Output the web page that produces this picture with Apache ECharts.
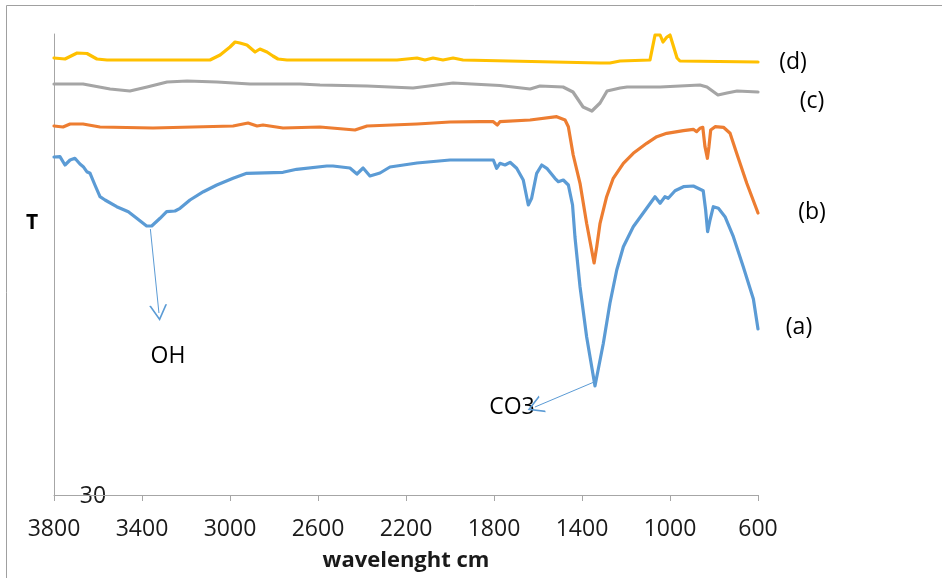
<!DOCTYPE html>
<html>
<head>
<meta charset="utf-8">
<script src="https://cdn.jsdelivr.net/npm/echarts@6/dist/echarts.min.js"></script>
<style>
html,body{margin:0;padding:0;background:#fff;}
#chart{width:942px;height:578px;}
</style>
</head>
<body>
<div id="chart"></div>
<script>
// x tick labels (wavenumber)
var xTicks = [3800, 3400, 3000, 2600, 2200, 1800, 1400, 1000, 600];

// (a) blue
var aWn = [3800,3795,3773,3750,3727,3705,3682,3667,3651,3636,3614,3591,3568,3515,3462,3424,3379,3356,3318,3288,3250,3227,3182,3121,3060,2986,2924,2759,2697,2560,2532,2455,2423,2395,2364,2318,2273,2150,2000,1864,1803,1788,1773,1750,1727,1697,1667,1644,1629,1606,1583,1560,1523,1508,1485,1462,1443,1432,1409,1379,1341,1303,1273,1242,1212,1167,1106,1068,1045,1023,1008,977,939,894,849,838,829,818,803,780,750,712,667,621,600];
var aT  = [63.8,63.9,63.83,63.0,63.5,63.67,63.1,62.83,62.33,62.17,61.0,59.83,59.5,58.83,58.33,57.67,56.9,56.9,57.67,58.33,58.4,58.67,59.5,60.33,61.0,61.67,62.17,62.27,62.57,62.9,62.9,62.7,62.1,62.7,61.9,62.2,62.8,63.2,63.5,63.5,63.5,62.67,63.17,63.0,63.27,62.67,61.5,59.0,59.67,62.17,63.0,62.67,61.67,61.33,61.5,61.0,59.0,55.8,50.83,45.83,40.9,45.17,49.17,52.5,54.83,56.83,58.67,59.83,59.17,59.83,59.67,60.43,60.83,60.9,60.43,58.5,56.33,57.5,58.83,58.67,57.83,55.83,52.83,49.6,46.6];

// (b) orange
var bWn = [3800,3759,3727,3668,3591,3350,2986,2918,2877,2850,2759,2591,2432,2377,2150,2000,1864,1803,1785,1773,1636,1515,1477,1462,1440,1409,1379,1345,1333,1318,1288,1258,1212,1167,1106,1060,1015,939,894,879,864,851,841,830,823,815,795,757,727,697,651,605,600];
var bT  = [66.9,66.8,67.1,67.1,66.8,66.7,66.9,67.2,66.9,67.0,66.7,66.8,66.5,66.9,67.1,67.3,67.33,67.33,67.0,67.33,67.5,67.83,67.5,66.83,64.0,61.17,57.17,53.2,54.83,57.17,59.83,61.67,63.17,64.17,65.17,65.83,66.17,66.43,66.57,66.33,66.67,66.77,64.83,63.67,64.83,66.5,66.83,66.77,66.17,64.17,61.17,58.5,58.2];

// (c) grey
var cWn = [3800,3668,3545,3455,3377,3286,3195,3059,2909,2682,2591,2377,2168,1986,1773,1636,1591,1486,1441,1395,1355,1318,1286,1227,1195,1045,864,832,782,741,695,600];
var cT  = [71.1,71.1,70.6,70.4,70.8,71.3,71.4,71.3,71.1,71.1,71.0,70.9,70.7,71.2,70.95,70.6,70.9,70.8,70.3,68.8,68.4,69.2,70.4,70.7,70.8,70.8,71.0,70.8,70.0,70.2,70.4,70.3];

// (d) yellow
var dWn = [3800,3750,3695,3650,3605,3559,3091,3045,3000,2977,2955,2923,2886,2864,2832,2805,2782,2741,2591,2241,2150,2114,2077,2032,1986,1941,1318,1273,1227,1091,1068,1045,1032,1014,1000,968,955,600];
var dT  = [73.7,73.6,74.2,74.15,73.6,73.5,73.5,74.0,74.8,75.3,75.2,75.0,74.3,74.6,74.3,73.9,73.6,73.5,73.5,73.5,73.7,73.5,73.7,73.5,73.7,73.5,73.2,73.2,73.4,73.5,76.0,76.0,75.3,75.8,76.0,73.7,73.4,73.3];

var seriesNames = ['(a)', '(b)', '(c)', '(d)'];
var colors = ['#5B9BD5', '#ED7D31', '#A5A5A5', '#FFC000'];

function pairs(x, y) { return x.map(function (v, i) { return [v, y[i]]; }); }

var chevron = 'path://M0 10 L5 0 L10 10 L9 10 L5 2 L1 10 Z';
var font = '"Open Sans", "Liberation Sans", sans-serif';

var chart = echarts.init(document.getElementById('chart'));
var lines = [pairs(aWn, aT), pairs(bWn, bT), pairs(cWn, cT), pairs(dWn, dT)];

var series = lines.map(function (d, i) {
  return {
    name: seriesNames[i], type: 'line', data: d, showSymbol: false, symbol: 'none',
    lineStyle: { color: colors[i], width: 3.2, join: 'round', cap: 'round' }, itemStyle: { color: colors[i] },
    animation: false, smooth: false
  };
});
series[0].markLine = {
  silent: true, animation: false, label: { show: false },
  lineStyle: { color: '#5B9BD5', width: 1, type: 'solid' },
  symbol: ['none', chevron], symbolSize: [18, 16],
  data: [
    [{ coord: [3362, 56.6] }, { coord: [3323, 48.2] }],
    [{ coord: [1345, 41.3] }, { coord: [1614, 38.8] }]
  ]
};

chart.setOption({
  backgroundColor: '#fff',
  animation: false,
  grid: { left: 54, right: 184, top: 34, bottom: 83 },
  xAxis: {
    type: 'value', inverse: true, min: 600, max: 3800, interval: 400,
    name: 'wavelenght cm', nameLocation: 'middle', nameGap: 55,
    nameTextStyle: { fontFamily: font, fontSize: 22, fontWeight: 'bold', color: '#1a1a1a' },
    axisLine: { lineStyle: { color: '#a6a6a6', width: 1 } },
    axisTick: { show: true, length: 6, lineStyle: { color: '#a6a6a6' } },
    axisLabel: { fontFamily: font, fontSize: 23, color: '#1a1a1a', margin: 23,
      formatter: function (v) { return xTicks.indexOf(v) >= 0 ? String(v) : ''; } },
    splitLine: { show: false }
  },
  yAxis: {
    type: 'value', min: 30, max: 76.1,
    axisLine: { show: true, lineStyle: { color: '#a6a6a6', width: 1 } },
    axisTick: { show: false }, axisLabel: { show: false }, splitLine: { show: false }
  },
  series: series,
  graphic: [
    { type: 'rect', silent: true, shape: { x: 6.5, y: 5.5, width: 1200, height: 1200 },
      style: { fill: 'none', stroke: '#a0a0a0', lineWidth: 1 } },
    { type: 'text', left: 26, top: 213, style: { text: 'T', font: 'bold 21px ' + font, fill: '#000' } },
    { type: 'text', x: 93, y: 496, style: { text: '30', font: '23px ' + font, fill: '#1a1a1a', textAlign: 'center', textVerticalAlign: 'middle' } },
    { type: 'text', x: 168, y: 356, style: { text: 'OH', font: '23px ' + font, fill: '#000', textAlign: 'center', textVerticalAlign: 'middle' } },
    { type: 'text', x: 512, y: 407, style: { text: 'CO3', font: '23px ' + font, fill: '#000', textAlign: 'center', textVerticalAlign: 'middle' } },
    { type: 'text', x: 793, y: 62, style: { text: '(d)', font: '23px ' + font, fill: '#000', textAlign: 'center', textVerticalAlign: 'middle' } },
    { type: 'text', x: 812, y: 101, style: { text: '(c)', font: '23px ' + font, fill: '#000', textAlign: 'center', textVerticalAlign: 'middle' } },
    { type: 'text', x: 812, y: 212, style: { text: '(b)', font: '23px ' + font, fill: '#000', textAlign: 'center', textVerticalAlign: 'middle' } },
    { type: 'text', x: 799, y: 327, style: { text: '(a)', font: '23px ' + font, fill: '#000', textAlign: 'center', textVerticalAlign: 'middle' } }
  ]
});
</script>
</body>
</html>
